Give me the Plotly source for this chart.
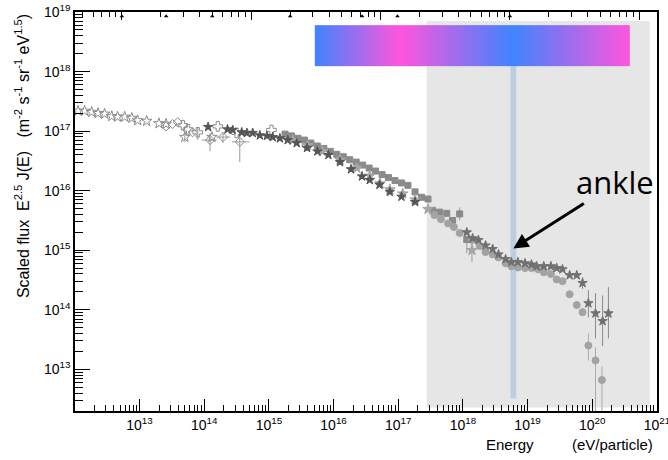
import numpy as np
import plotly.graph_objects as go

# values, stored as log10(E / eV) and log10(E^2.5 J(E))
# open stars - direct measurements at low energy
ostar_logE = [12.05, 12.15, 12.26, 12.36, 12.46, 12.57, 12.66, 12.77, 12.88, 12.97, 13.11, 13.30, 13.41, 13.70, 14.12]
ostar_logF = [17.34, 17.34, 17.32, 17.30, 17.29, 17.25, 17.24, 17.24, 17.22, 17.18, 17.17, 17.13, 17.12, 16.90, 16.90]
# open diamonds
odia_logE = [13.41, 13.51, 13.59, 13.82, 14.09, 14.29, 14.55]
odia_logF = [17.08, 17.12, 17.15, 16.98, 16.85, 16.90, 16.82]
# open crosses
ocross_logE = [13.67, 13.75, 13.90, 14.21, 14.50, 15.04, 15.59]
ocross_logF = [17.10, 17.03, 16.98, 17.08, 16.97, 17.02, 16.76]
# dark filled stars (knee region)
dstar_logE = [14.06, 14.36, 14.44, 14.58, 14.66, 14.75, 14.86, 14.97, 15.06, 15.17, 15.29, 15.43, 15.59, 15.75,
              15.92, 16.10, 16.27, 16.44, 16.56, 16.71, 16.87, 17.05, 17.26]
dstar_logF = [17.07, 17.03, 17.02, 16.98, 16.97, 16.97, 16.93, 16.92, 16.90, 16.88, 16.85, 16.80, 16.72, 16.66,
              16.60, 16.48, 16.36, 16.24, 16.18, 16.10, 15.98, 15.90, 15.81]
# filled squares
sq_logE = [15.25, 15.35, 15.45, 15.55, 15.65, 15.75, 15.85, 15.95, 16.05, 16.15, 16.25, 16.35, 16.45, 16.55,
           16.65, 16.75, 16.85, 16.95, 17.05, 17.15, 17.26, 17.36, 17.46, 17.53, 17.64, 17.75, 17.84, 17.95, 18.06]
sq_logF = [16.95, 16.92, 16.88, 16.85, 16.80, 16.75, 16.71, 16.66, 16.61, 16.57, 16.52, 16.48, 16.43, 16.38,
           16.33, 16.27, 16.22, 16.17, 16.13, 16.09, 15.98, 15.89, 15.86, 15.67, 15.64, 15.62, 15.50, 15.61, 15.18]
# light filled stars
lstar_logE = [15.37, 15.60, 15.83, 16.10, 16.36, 16.56, 16.72, 16.87, 17.07, 17.26, 17.46, 18.14]
lstar_logF = [16.85, 16.76, 16.66, 16.52, 16.38, 16.25, 16.12, 16.02, 15.95, 15.85, 15.69, 15.00]
# filled circles (highest energies)
circ_logE = [17.56, 17.66, 17.77, 17.86, 17.95, 18.14, 18.26, 18.35, 18.46, 18.55, 18.66, 18.75, 18.85, 18.96,
             19.06, 19.16, 19.25, 19.36, 19.45, 19.54, 19.65, 19.76, 19.85, 19.94, 20.05, 20.15]
circ_logF = [15.59, 15.52, 15.45, 15.39, 15.29, 15.17, 15.07, 14.97, 14.93, 14.88, 14.78, 14.73, 14.71, 14.70,
             14.70, 14.68, 14.63, 14.60, 14.51, 14.48, 14.26, 14.08, 13.96, 13.40, 13.15, 12.82]
# dark stars (highest energies)
tstar_logE = [18.06, 18.15, 18.24, 18.35, 18.46, 18.55, 18.66, 18.75, 18.85, 18.96, 19.06, 19.14, 19.25, 19.36,
              19.45, 19.54, 19.65, 19.76, 19.85, 19.94, 20.05, 20.16, 20.25]
tstar_logF = [15.30, 15.20, 15.17, 15.08, 15.02, 14.93, 14.85, 14.80, 14.80, 14.78, 14.76, 14.73, 14.73, 14.73,
              14.70, 14.68, 14.58, 14.58, 14.45, 14.11, 13.94, 13.81, 13.94]

# vertical error bars: energy, upper, lower (log10)
err_light_logE = [13.70, 13.90, 14.09, 14.29, 14.55, 17.95, 18.06, 18.14]
err_light_hi = [16.97, 17.07, 16.97, 16.98, 16.97, 15.72, 15.18, 15.13]
err_light_lo = [16.82, 16.85, 16.66, 16.80, 16.48, 15.50, 14.95, 14.80]
err_circ_logE = [19.85, 19.94, 20.05, 20.15]
err_circ_hi = [14.02, 13.60, 13.37, 13.05]
err_circ_lo = [13.90, 13.15, 12.00, 12.00]
err_tstar_logE = [19.85, 19.94, 20.05, 20.16, 20.25]
err_tstar_hi = [14.55, 14.33, 14.28, 14.24, 14.38]
err_tstar_lo = [14.35, 13.87, 13.52, 13.39, 13.52]
# horizontal error bars on the open diamonds
herr_logF = [16.85, 16.90, 16.82]
herr_left = [13.96, 14.19, 14.43]
herr_right = [14.19, 14.40, 14.70]

# accelerator energies on the top (sqrt s) axis, eV
accel_sqrt_s = [1.0e11, 2.2e11, 5.0e11, 2.0e12, 7.2e12, 1.35e13, 1.0e14]

# shaded region, ankle line, colour band (log10 E)
shade_logE = [17.44, 20.89]
shade_logF = [12.36, 18.85]
ankle_logE = 18.78
ankle_logF = [12.51, 18.09]
band_logF = [18.09, 18.78]
band_stops_logE = [15.71, 17.02, 18.77, 20.58]
band_stops_val = [0, 1, 0, 1]


def p(v):
    return [10.0 ** a for a in v]


def vsegs(xs, lo, hi):
    x, y = [], []
    for a, b, c in zip(xs, lo, hi):
        x += [10.0 ** a, 10.0 ** a, None]
        y += [10.0 ** b, 10.0 ** c, None]
    return x, y


def hsegs(ys, left, right):
    x, y = [], []
    for a, b, c in zip(ys, left, right):
        x += [10.0 ** b, 10.0 ** c, None]
        y += [10.0 ** a, 10.0 ** a, None]
    return x, y


fig = go.Figure()

# error bars first
for xs, lo, hi, col in [(err_light_logE, err_light_lo, err_light_hi, '#999999'),
                        (err_circ_logE, err_circ_lo, err_circ_hi, '#aaaaaa'),
                        (err_tstar_logE, err_tstar_lo, err_tstar_hi, '#8a8a8a')]:
    ex, ey = vsegs(xs, lo, hi)
    fig.add_trace(go.Scatter(x=ex, y=ey, mode='lines', line=dict(color=col, width=1), hoverinfo='skip'))
ex, ey = hsegs(herr_logF, herr_left, herr_right)
fig.add_trace(go.Scatter(x=ex, y=ey, mode='lines', line=dict(color='#999999', width=1), hoverinfo='skip'))

series = [
    (ostar_logE, ostar_logF, 'star-open', 8, '#8c8c8c'),
    (odia_logE, odia_logF, 'diamond-open', 7, '#8c8c8c'),
    (ocross_logE, ocross_logF, 'cross-open', 8, '#8c8c8c'),
    (sq_logE, sq_logF, 'square', 6, '#8a8a8a'),
    (lstar_logE, lstar_logF, 'star', 8, '#a6a6a6'),
    (dstar_logE, dstar_logF, 'star', 7, '#555555'),
    (circ_logE, circ_logF, 'circle', 7, '#a3a3a3'),
    (tstar_logE, tstar_logF, 'star', 7, '#707070'),
]
for xs, ys, sym, size, col in series:
    fig.add_trace(go.Scatter(x=p(xs), y=p(ys), mode='markers',
                             marker=dict(symbol=sym, size=size, color=col, line=dict(color=col, width=1))))

# accelerator triangles on the top axis
fig.add_trace(go.Scatter(x=accel_sqrt_s, y=[10.0 ** 18.93] * len(accel_sqrt_s), xaxis='x3', mode='markers',
                         marker=dict(symbol='triangle-up', size=4, color='black'), hoverinfo='skip'))

# colour band on an overlay linear axis
edges = np.linspace(band_stops_logE[0], band_stops_logE[-1], 301)
centres = (edges[:-1] + edges[1:]) / 2
zvals = np.interp(centres, band_stops_logE, band_stops_val)
fig.add_trace(go.Heatmap(x=edges.tolist(), y=band_logF, z=[zvals.tolist()], xaxis='x2', yaxis='y2', showscale=False,
                         colorscale=[[0, '#3f84ff'], [1, '#ff55dd']], zmin=0, zmax=1, hoverinfo='skip'))

fig.add_shape(type='rect', x0=10.0 ** shade_logE[0], x1=10.0 ** shade_logE[1], y0=10.0 ** shade_logF[0],
              y1=10.0 ** shade_logF[1], fillcolor='#e6e6e6', line=dict(width=0), layer='below')
fig.add_shape(type='rect', x0=10.0 ** (ankle_logE - 0.045), x1=10.0 ** (ankle_logE + 0.045), y0=10.0 ** ankle_logF[0],
              y1=10.0 ** ankle_logF[1], fillcolor='#bccfe2', line=dict(width=0), layer='below')

font = 'Liberation Sans, Arial, sans-serif'
xt = [10.0 ** n for n in range(13, 22)]
yt = [10.0 ** n for n in range(13, 20)]
xminor = [k * 10.0 ** n for n in range(12, 21) for k in range(2, 10)]
yminor = [k * 10.0 ** n for n in range(12, 19) for k in range(2, 10)]
topt = [10.0 ** n for n in range(11, 16)]
topminor = [k * 10.0 ** n for n in range(10, 15) for k in range(2, 10)]

xr = [12.002, 21.001]
fig.update_layout(
    width=668, height=460, margin=dict(l=75, r=11, t=12, b=49),
    plot_bgcolor='white', paper_bgcolor='white', showlegend=False,
    font=dict(family=font, size=14, color='black'),
    xaxis=dict(type='log', range=xr, tickmode='array', tickvals=xt, automargin=False, ticklabeloverflow='allow',
               ticktext=['10<sup>%d</sup>' % n for n in range(13, 22)],
               ticks='inside', ticklen=12, tickcolor='black', showline=True, linecolor='black', linewidth=1.5,
               mirror=True, showgrid=False, zeroline=False,
               minor=dict(tickmode='array', tickvals=xminor, ticks='inside', ticklen=6, tickcolor='black', showgrid=False)),
    yaxis=dict(type='log', range=[12.3, 19.001], tickmode='array', tickvals=yt, automargin=False,
               ticklabeloverflow='allow',
               ticktext=['10<sup>%d</sup>' % n for n in range(13, 20)],
               ticks='inside', ticklen=15, tickcolor='black', showline=True, linecolor='black', linewidth=1.5,
               mirror=True, showgrid=False, zeroline=False,
               minor=dict(tickmode='array', tickvals=yminor, ticks='inside', ticklen=8, tickcolor='black', showgrid=False)),
    xaxis2=dict(overlaying='x', range=xr, visible=False, automargin=False),
    yaxis2=dict(overlaying='y', range=[12.3, 19.001], visible=False, automargin=False),
    xaxis3=dict(overlaying='x', side='top', type='log', anchor='y', automargin=False,
                range=[(xr[0] + 9.273) / 2, (xr[1] + 9.273) / 2],
                tickmode='array', tickvals=topt, showticklabels=False, ticks='inside', ticklen=8,
                tickcolor='black', showgrid=False, zeroline=False, showline=False,
                minor=dict(tickmode='array', tickvals=topminor, ticks='inside', ticklen=5, tickcolor='black', showgrid=False)),
)

fig.add_annotation(x=ankle_logE, y=15.03, xref='x', yref='y', text='', showarrow=True, ax=72, ay=-46,
                   arrowhead=2, arrowsize=1, arrowwidth=3, arrowcolor='black')
fig.add_annotation(x=0.928, y=0.574, xref='paper', yref='paper', text='ankle', showarrow=False,
                   xanchor='center', yanchor='middle',
                   font=dict(family='Open Sans', size=31, color='black'))
fig.add_annotation(x=-0.091, y=0.639, xref='paper', yref='paper', textangle=-90, showarrow=False,
                   xanchor='center', yanchor='middle',
                   text='Scaled flux&nbsp;&nbsp;E<sup>2.5</sup> J(E)&nbsp;&nbsp;&nbsp;(m<sup>-2</sup> s<sup>-1</sup> sr<sup>-1</sup> eV<sup>1.5</sup>)',
                   font=dict(family=font, size=16, color='black'))
fig.add_annotation(x=0.747, y=-0.085, xref='paper', yref='paper', text='Energy', showarrow=False,
                   xanchor='center', yanchor='middle', font=dict(family=font, size=15, color='black'))
fig.add_annotation(x=0.923, y=-0.085, xref='paper', yref='paper', text='(eV/particle)', showarrow=False,
                   xanchor='center', yanchor='middle', font=dict(family=font, size=15, color='black'))

# the page body has a default 8px margin; drop it so the figure sits at the window corner
fig.write_html('out.html', config={'displayModeBar': False},
               post_script="document.body.style.margin='0px';")
